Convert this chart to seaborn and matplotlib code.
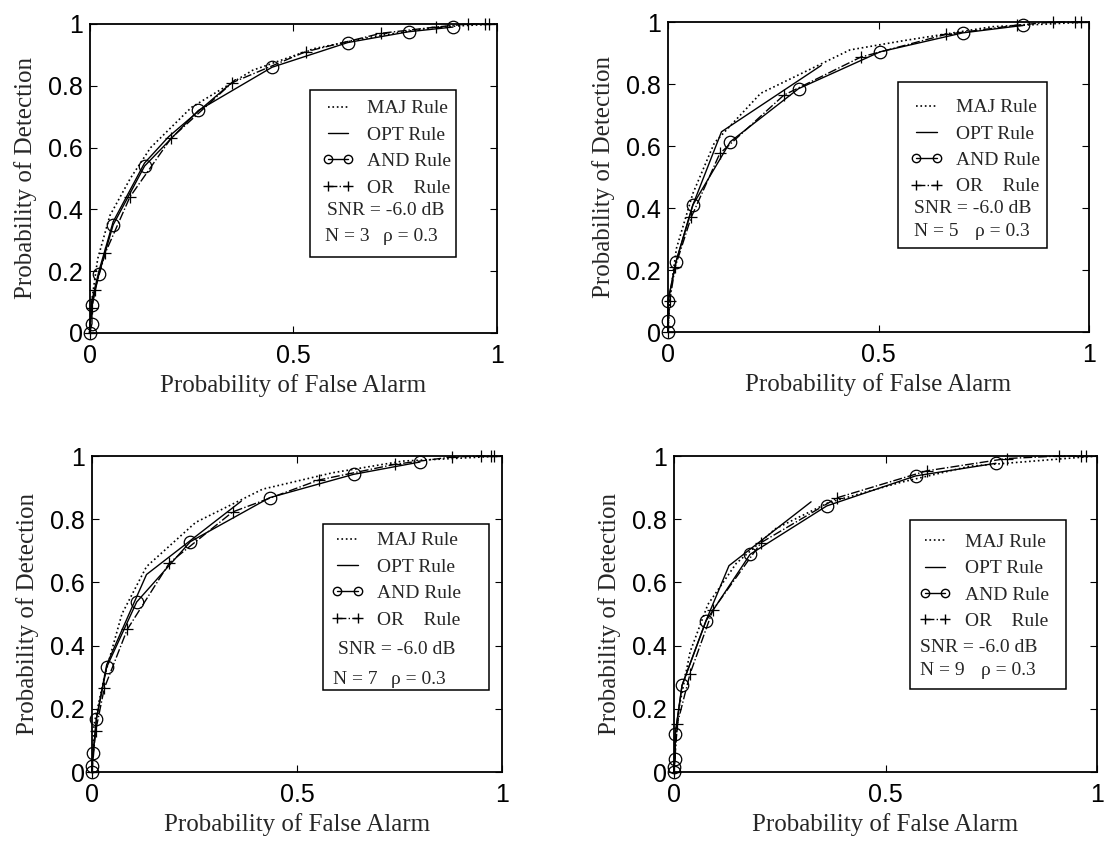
import numpy as np
import pandas as pd
import seaborn as sns
from matplotlib import pyplot as plt
from matplotlib.lines import Line2D
from matplotlib.patches import Rectangle
from matplotlib.ticker import FormatStrFormatter

# ROC points (PF = false alarm, PD = detection)
N_VALUES = [3, 5, 7, 9]
SNR_DB = -6.0
RHO = 0.3

AND3_PF = [0, 0.006, 0.006, 0.023, 0.058, 0.135, 0.267, 0.448, 0.634, 0.784, 0.892]
AND3_PD = [0, 0.03, 0.09, 0.19, 0.35, 0.54, 0.72, 0.86, 0.94, 0.975, 0.99]
OR3_PF = [0, 0.006, 0.013, 0.039, 0.099, 0.2, 0.35, 0.53, 0.716, 0.85, 0.93, 0.97, 0.98]
OR3_PD = [0, 0.08, 0.14, 0.26, 0.44, 0.63, 0.81, 0.91, 0.97, 0.99, 1.0, 1.0, 1.0]
MAJ3_PF = [0, 0.005, 0.02, 0.05, 0.1, 0.15, 0.25, 0.4, 0.55, 0.7, 0.85, 1.0]
MAJ3_PD = [0, 0.1, 0.24, 0.38, 0.5, 0.6, 0.73, 0.85, 0.92, 0.96, 0.99, 1.0]
OPT3_PF = [0, 0.005, 0.023, 0.058, 0.135, 0.194, 0.358]
OPT3_PD = [0, 0.1, 0.2, 0.36, 0.55, 0.635, 0.82]

AND5_PF = [0, 0, 0, 0.019, 0.059, 0.148, 0.31, 0.504, 0.70, 0.843]
AND5_PD = [0, 0.035, 0.1, 0.227, 0.41, 0.614, 0.785, 0.904, 0.965, 0.989]
OR5_PF = [0, 0.004, 0.017, 0.055, 0.123, 0.275, 0.458, 0.66, 0.83, 0.915, 0.966, 0.98]
OR5_PD = [0, 0.1, 0.21, 0.37, 0.576, 0.764, 0.887, 0.96, 0.99, 1.0, 1.0, 1.0]
MAJ5_PF = [0, 0.005, 0.02, 0.059, 0.11, 0.22, 0.432, 0.56, 0.77, 1.0]
MAJ5_PD = [0, 0.12, 0.27, 0.447, 0.61, 0.77, 0.91, 0.94, 0.985, 1.0]
OPT5_PF = [0, 0, 0.019, 0.059, 0.127, 0.364]
OPT5_PD = [0, 0.1, 0.227, 0.41, 0.646, 0.86]

AND7_PF = [0, 0, 0.003, 0.011, 0.036, 0.109, 0.24, 0.433, 0.638, 0.80]
AND7_PD = [0, 0.02, 0.06, 0.169, 0.332, 0.538, 0.729, 0.868, 0.942, 0.981]
OR7_PF = [0, 0.009, 0.03, 0.086, 0.189, 0.343, 0.553, 0.74, 0.878, 0.95, 0.973, 0.98]
OR7_PD = [0, 0.13, 0.265, 0.451, 0.662, 0.823, 0.924, 0.974, 0.997, 1.0, 1.0, 1.0]
MAJ7_PF = [0, 0.005, 0.03, 0.073, 0.133, 0.253, 0.416, 0.587, 0.758, 1.0]
MAJ7_PD = [0, 0.15, 0.30, 0.50, 0.65, 0.79, 0.895, 0.947, 0.984, 1.0]
OPT7_PF = [0, 0.003, 0.011, 0.036, 0.133, 0.364]
OPT7_PD = [0, 0.06, 0.17, 0.34, 0.625, 0.857]

AND9_PF = [0, 0, 0.003, 0.003, 0.019, 0.076, 0.18, 0.361, 0.571, 0.761]
AND9_PD = [0, 0.016, 0.042, 0.121, 0.274, 0.479, 0.689, 0.842, 0.937, 0.977]
OR9_PF = [0, 0.008, 0.038, 0.092, 0.206, 0.386, 0.597, 0.786, 0.91, 0.962, 0.975]
OR9_PD = [0, 0.153, 0.311, 0.513, 0.726, 0.868, 0.953, 0.992, 1.0, 1.0, 1.0]
MAJ9_PF = [0, 0.004, 0.013, 0.038, 0.08, 0.147, 0.24, 0.366, 0.534, 0.7, 1.0]
MAJ9_PD = [0, 0.1, 0.21, 0.38, 0.53, 0.66, 0.77, 0.853, 0.916, 0.968, 1.0]
OPT9_PF = [0, 0.003, 0.019, 0.076, 0.13, 0.324]
OPT9_PD = [0, 0.12, 0.274, 0.48, 0.653, 0.855]

X_TICKS = [0, 0.5, 1]
Y_TICKS = [0, 0.2, 0.4, 0.6, 0.8, 1]

SERIES = {
    3: (MAJ3_PF, MAJ3_PD, OPT3_PF, OPT3_PD, AND3_PF, AND3_PD, OR3_PF, OR3_PD),
    5: (MAJ5_PF, MAJ5_PD, OPT5_PF, OPT5_PD, AND5_PF, AND5_PD, OR5_PF, OR5_PD),
    7: (MAJ7_PF, MAJ7_PD, OPT7_PF, OPT7_PD, AND7_PF, AND7_PD, OR7_PF, OR7_PD),
    9: (MAJ9_PF, MAJ9_PD, OPT9_PF, OPT9_PD, AND9_PF, AND9_PD, OR9_PF, OR9_PD),
}

# layout: axes rect, legend box (x0, x1, ybot, ytop), handle x, row y's, text rows
LAYOUT = {
    3: dict(rect=[0.0811, 0.6055, 0.3691, 0.3661], box=(0.541, 0.90, 0.245, 0.785),
            hx=0.570, rows=[0.728, 0.643, 0.562, 0.477], snr=(0.583, 0.396), nn=(0.578, 0.311), rho=0.72),
    5: dict(rect=[0.6051, 0.6066, 0.3813, 0.3673], box=(0.547, 0.90, 0.271, 0.807),
            hx=0.576, rows=[0.726, 0.641, 0.56, 0.476], snr=(0.585, 0.40), nn=(0.585, 0.325), rho=0.73),
    7: dict(rect=[0.0833, 0.0853, 0.3714, 0.3744], box=(0.5625, 0.969, 0.258, 0.786),
            hx=0.584, rows=[0.733, 0.647, 0.57, 0.484], snr=(0.60, 0.389), nn=(0.589, 0.294), rho=0.73),
    9: dict(rect=[0.6105, 0.0853, 0.3832, 0.3744], box=(0.558, 0.926, 0.263, 0.796),
            hx=0.579, rows=[0.728, 0.642, 0.565, 0.479], snr=(0.581, 0.393), nn=(0.581, 0.32), rho=0.725),
}

sns.set_theme(style="ticks")
plt.rcParams['font.family'] = ['Liberation Sans', 'DejaVu Sans']
SERIF = ['Liberation Serif', 'DejaVu Serif']

fig = plt.figure(figsize=(11.04, 8.44), dpi=100)

common = dict(sort=False, estimator=None, color='black', clip_on=False)
mk = dict(markersize=9, markerfacecolor='none', markeredgecolor='black', markeredgewidth=0.9)

for n in N_VALUES:
    lay = LAYOUT[n]
    ax = fig.add_axes(lay['rect'])
    maj_x, maj_y, opt_x, opt_y, and_x, and_y, or_x, or_y = SERIES[n]
    sns.lineplot(x=maj_x, y=maj_y, ax=ax, linestyle=':', lw=1.2, **common)
    sns.lineplot(x=opt_x, y=opt_y, ax=ax, linestyle='-', lw=1.0, **common)
    sns.lineplot(x=and_x, y=and_y, ax=ax, linestyle='-', lw=1.0, marker='o', **mk, **common)
    sns.lineplot(x=or_x, y=or_y, ax=ax, linestyle='-.', lw=1.0, marker='+', **mk, **common)

    ax.set_xlim(0, 1)
    ax.set_ylim(0, 1)
    ax.set_xticks(X_TICKS)
    ax.set_yticks(Y_TICKS)
    ax.xaxis.set_major_formatter(FormatStrFormatter('%g'))
    ax.yaxis.set_major_formatter(FormatStrFormatter('%g'))
    ax.tick_params(direction='in', top=True, right=True, length=5, width=0.8,
                   labelsize=18, colors='black')
    ax.tick_params(axis='x', pad=8)
    ax.tick_params(axis='y', pad=5)
    for sp in ax.spines.values():
        sp.set_color('black')
        sp.set_linewidth(1.3)
    ax.set_xlabel('Probability of False Alarm', family=SERIF, fontsize=18, labelpad=4)
    ax.set_ylabel('Probability of Detection', family=SERIF, fontsize=18, labelpad=8)

    # legend box
    x0, x1, yb, yt = lay['box']
    ax.add_patch(Rectangle((x0, yb), x1 - x0, yt - yb, transform=ax.transAxes,
                           fill=False, edgecolor='black', lw=1.1, zorder=5))
    handles = [
        Line2D([], [], color='black', lw=1.2, linestyle=':'),
        Line2D([], [], color='black', lw=1.0, linestyle='-'),
        Line2D([], [], color='black', lw=1.0, linestyle='-', marker='o', markersize=6,
               markerfacecolor='none', markeredgecolor='black'),
        Line2D([], [], color='black', lw=1.0, linestyle='-.', marker='+', markersize=7,
               markeredgecolor='black'),
    ]
    labels = ['MAJ Rule', 'OPT Rule', 'AND Rule', 'OR    Rule']
    step = lay['rows'][0] - lay['rows'][1]
    ax.legend(handles, labels, loc='upper left',
              bbox_to_anchor=(lay['hx'], lay['rows'][0] + step / 2 - 0.016),
              frameon=False, borderpad=0, borderaxespad=0, numpoints=2,
              handlelength=1.65, handletextpad=0.7, labelspacing=0.45,
              prop=dict(family=SERIF, size=14))
    sx, sy = lay['snr']
    ax.text(sx, sy, f'SNR = {SNR_DB:.1f} dB', transform=ax.transAxes, va='center',
            ha='left', family=SERIF, fontsize=14)
    nx, ny = lay['nn']
    ax.text(nx, ny, f'N = {n}', transform=ax.transAxes, va='center', ha='left',
            family=SERIF, fontsize=14)
    ax.text(lay['rho'], ny, f'\u03c1 = {RHO}', transform=ax.transAxes, va='center',
            ha='left', family=SERIF, fontsize=14)

fig.savefig('out.png', dpi=100)
